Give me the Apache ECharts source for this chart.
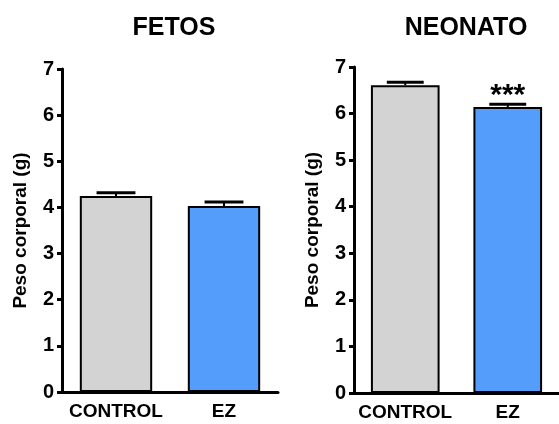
<!DOCTYPE html>
<html>
<head>
<meta charset="utf-8">
<script src="https://cdn.jsdelivr.net/npm/echarts@6/dist/echarts.min.js"></script>
<style>
  html, body { margin: 0; padding: 0; background: #fff; }
  #main { width: 559px; height: 424px; }
</style>
</head>
<body>
<div id="main"></div>
<script>
const categories = ['CONTROL', 'EZ'];
const panelTitles = ['FETOS', 'NEONATO'];
const fetosMean = [4.25, 4.03];
const fetosSem = [0.07, 0.09];
const neonatoMean = [6.61, 6.14];
const neonatoSem = [0.06, 0.06];
const barColors = ['#d3d3d3', '#559dfb'];
const yName = 'Peso corporal (g)';

const chart = echarts.init(document.getElementById('main'));
const font = 'Liberation Sans, Arial, sans-serif';

function errRender(params, api) {
    const idx = api.value(0);
    const base = api.coord([idx, api.value(1)]);
    const top = api.coord([idx, api.value(1) + api.value(2)]);
    const band = api.size([1, 0])[0];
    const half = band * 0.18;
    return {
        type: 'group',
        children: [
            { type: 'line', shape: { x1: base[0], y1: base[1], x2: top[0], y2: top[1] },
              style: { stroke: '#000', lineWidth: 2 } },
            { type: 'line', shape: { x1: top[0] - half, y1: top[1], x2: top[0] + half, y2: top[1] },
              style: { stroke: '#000', lineWidth: 3 } }
        ]
    };
}

function barData(means, stars) {
    return means.map((v, i) => ({
        value: v,
        itemStyle: { color: barColors[i] },
        label: stars && stars[i] ? { show: true, formatter: stars[i] } : { show: false }
    }));
}

const axisLine = { show: true, lineStyle: { color: '#000', width: 3 } };
const titleStyle = { fontFamily: font, fontSize: 25, fontWeight: 'bold', color: '#000' };

const option = {
    animation: false,
    title: [
        { text: panelTitles[0], left: 169, top: 11, textAlign: 'center', textStyle: titleStyle },
        { text: panelTitles[1], left: 461, top: 11, textAlign: 'center', textStyle: titleStyle }
    ],
    grid: [
        { left: 62, top: 69, width: 216, height: 323 },
        { left: 354, top: 67, width: 218, height: 326 }
    ],
    xAxis: [0, 1].map(i => ({
        type: 'category', gridIndex: i, data: categories,
        axisLine: axisLine,
        axisTick: { alignWithLabel: true, length: 6, lineStyle: { color: '#000', width: 3 } },
        axisLabel: { interval: 0, color: '#000', fontFamily: font, fontWeight: 'bold', fontSize: 19, margin: 10 }
    })),
    yAxis: [0, 1].map(i => ({
        type: 'value', gridIndex: i, min: 0, max: 7, interval: 1,
        name: yName, nameLocation: 'middle', nameGap: 32,
        nameTextStyle: { color: '#000', fontFamily: font, fontWeight: 'bold', fontSize: 19 },
        axisLine: axisLine,
        axisTick: { show: true, length: 5, lineStyle: { color: '#000', width: 3 } },
        axisLabel: { color: '#000', fontFamily: font, fontWeight: 'bold', fontSize: 20, margin: 8 },
        splitLine: { show: false }
    })),
    series: [
        { type: 'bar', xAxisIndex: 0, yAxisIndex: 0, barWidth: '67%',
          itemStyle: { borderColor: '#000', borderWidth: 2 },
          data: barData(fetosMean) },
        { type: 'custom', xAxisIndex: 0, yAxisIndex: 0, renderItem: errRender, z: 1,
          data: fetosMean.map((v, i) => [i, v, fetosSem[i]]) },
        { type: 'bar', xAxisIndex: 1, yAxisIndex: 1, barWidth: '67%',
          itemStyle: { borderColor: '#000', borderWidth: 2 },
          label: { position: 'top', distance: 0, offset: [0, 4], color: '#000', fontFamily: font, fontWeight: 'bold', fontSize: 30 },
          data: barData(neonatoMean, [null, '***']) },
        { type: 'custom', xAxisIndex: 1, yAxisIndex: 1, renderItem: errRender, z: 1,
          data: neonatoMean.map((v, i) => [i, v, neonatoSem[i]]) }
    ]
};
chart.setOption(option);
</script>
</body>
</html>
